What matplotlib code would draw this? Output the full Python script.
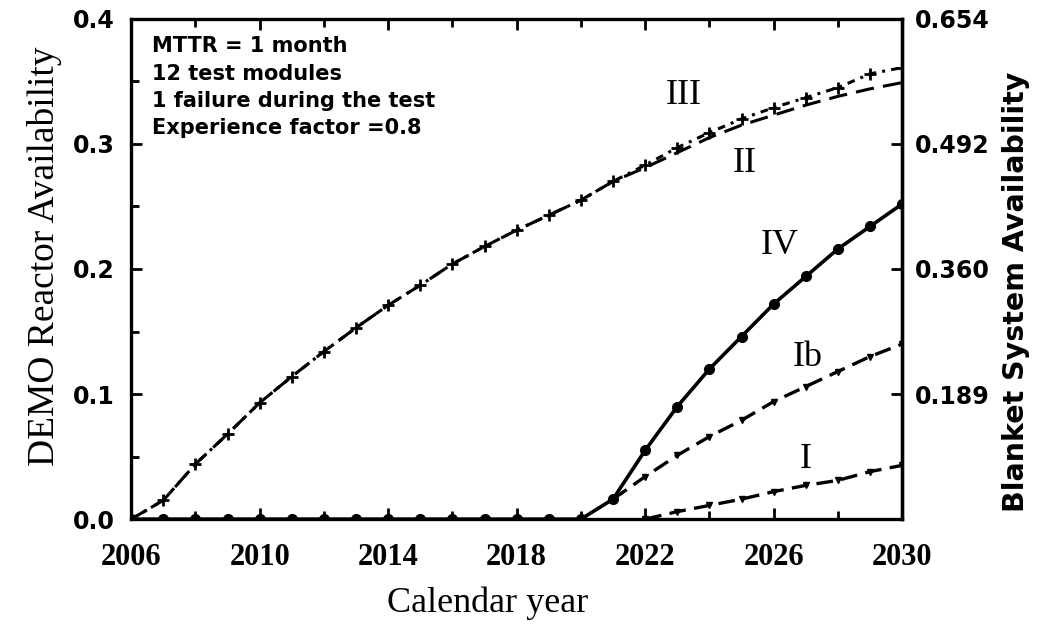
import numpy as np
import matplotlib
matplotlib.use("Agg")
import matplotlib.pyplot as plt
from matplotlib.ticker import MultipleLocator, FixedLocator, FormatStrFormatter

# Data
years = list(range(2006, 2031))
avail_ii = [0.000, 0.015, 0.044, 0.068, 0.093, 0.114, 0.134, 0.153, 0.171, 0.187,
            0.204, 0.218, 0.231, 0.243, 0.255, 0.270, 0.281, 0.293, 0.305, 0.315,
            0.323, 0.331, 0.338, 0.344, 0.349]
avail_iii = [0.000, 0.015, 0.044, 0.068, 0.093, 0.114, 0.134, 0.153, 0.171, 0.187,
             0.204, 0.218, 0.231, 0.243, 0.255, 0.270, 0.283, 0.297, 0.309, 0.320,
             0.329, 0.337, 0.345, 0.356, 0.361]
avail_iv = [0.0, 0.0, 0.0, 0.0, 0.0, 0.0, 0.0, 0.0, 0.0, 0.0, 0.0, 0.0, 0.0, 0.0, 0.0,
            0.016, 0.055, 0.090, 0.120, 0.146, 0.172, 0.194, 0.216, 0.234, 0.252]
years_ib = list(range(2021, 2031))
avail_ib = [0.016, 0.034, 0.051, 0.066, 0.079, 0.094, 0.106, 0.118, 0.130, 0.140]
years_i = list(range(2022, 2031))
avail_i = [0.000, 0.006, 0.011, 0.016, 0.022, 0.027, 0.031, 0.038, 0.043]

year_ticks = [2006, 2010, 2014, 2018, 2022, 2026, 2030]
right_ticks = [0.1, 0.2, 0.3, 0.4]
right_labels = ["0.189", "0.360", "0.492", "0.654"]

note = "MTTR = 1 month\n12 test modules\n1 failure during the test\nExperience factor =0.8"

SERIF = "Liberation Serif"
fig = plt.figure(figsize=(10.49, 6.27), dpi=100)
ax = fig.add_axes([0.125, 0.172, 0.735, 0.798])

ax.plot(years, avail_ii, color="black", lw=2.2, dashes=(6, 3))
ax.plot(years, avail_iii, color="black", lw=2.2, dashes=(2.5, 2, 1, 2),
        marker="+", ms=8, mew=2)
ax.plot(years, avail_iv, color="black", lw=2.6, marker="o", ms=7)
ax.plot(years_ib, avail_ib, color="black", lw=2.4, dashes=(5, 2.5),
        marker="v", ms=5)
ax.plot(years_i, avail_i, color="black", lw=2.4, dashes=(5, 2.5),
        marker="v", ms=5)

ax.set_xlim(2006, 2030)
ax.set_ylim(0, 0.4)
ax.xaxis.set_major_locator(FixedLocator(year_ticks))
ax.xaxis.set_minor_locator(MultipleLocator(2))
ax.yaxis.set_major_locator(MultipleLocator(0.1))
ax.yaxis.set_minor_locator(MultipleLocator(0.05))
ax.yaxis.set_major_formatter(FormatStrFormatter("%.1f"))
ax.tick_params(which="both", direction="in", top=True, width=2)
ax.tick_params(which="major", length=8)
ax.tick_params(which="minor", length=6)
ax.tick_params(axis="x", pad=17)
ax.tick_params(axis="y", pad=12)

for lab in ax.get_xticklabels():
    lab.set_fontfamily(SERIF)
    lab.set_fontweight("bold")
    lab.set_fontsize(22)
for lab in ax.get_yticklabels():
    lab.set_fontfamily("DejaVu Sans")
    lab.set_fontweight("bold")
    lab.set_fontsize(17)

for sp in ax.spines.values():
    sp.set_linewidth(2.4)

ax2 = ax.twinx()
ax2.set_ylim(0, 0.4)
ax2.set_yticks(right_ticks)
ax2.set_yticklabels(right_labels, fontfamily="DejaVu Sans", fontweight="bold", fontsize=17)
ax2.tick_params(direction="in", length=8, width=2, pad=9)
ax2.spines["right"].set_linewidth(2.4)

ax.set_xlabel("Calendar year", fontfamily=SERIF, fontsize=26)
ax.xaxis.set_label_coords(0.463, -0.135)
ax.xaxis.label.set_va("top")
ax.set_ylabel("DEMO Reactor Availability", fontfamily=SERIF, fontsize=27)
ax.yaxis.set_label_coords(-0.09, 0.525)
ax2.set_ylabel("Blanket System Availability", fontfamily="DejaVu Sans",
               fontweight="bold", fontsize=20.5)
ax2.yaxis.set_label_coords(1.13, 0.455)

ax.text(0.027, 0.965, note, transform=ax.transAxes, ha="left", va="top",
        fontfamily="DejaVu Sans", fontweight="bold", fontsize=15, linespacing=1.45)

lbl = dict(fontfamily=SERIF, fontsize=26, ha="center", va="center")
ax.text(2023.2, 0.339, "III", **lbl)
ax.text(2025.1, 0.284, "II", **lbl)
ax.text(2026.2, 0.219, "IV", **lbl)
ax.text(2027.05, 0.129, "Ib", **lbl)
ax.text(2027.0, 0.048, "I", **lbl)

fig.savefig("out.png", dpi=100)
